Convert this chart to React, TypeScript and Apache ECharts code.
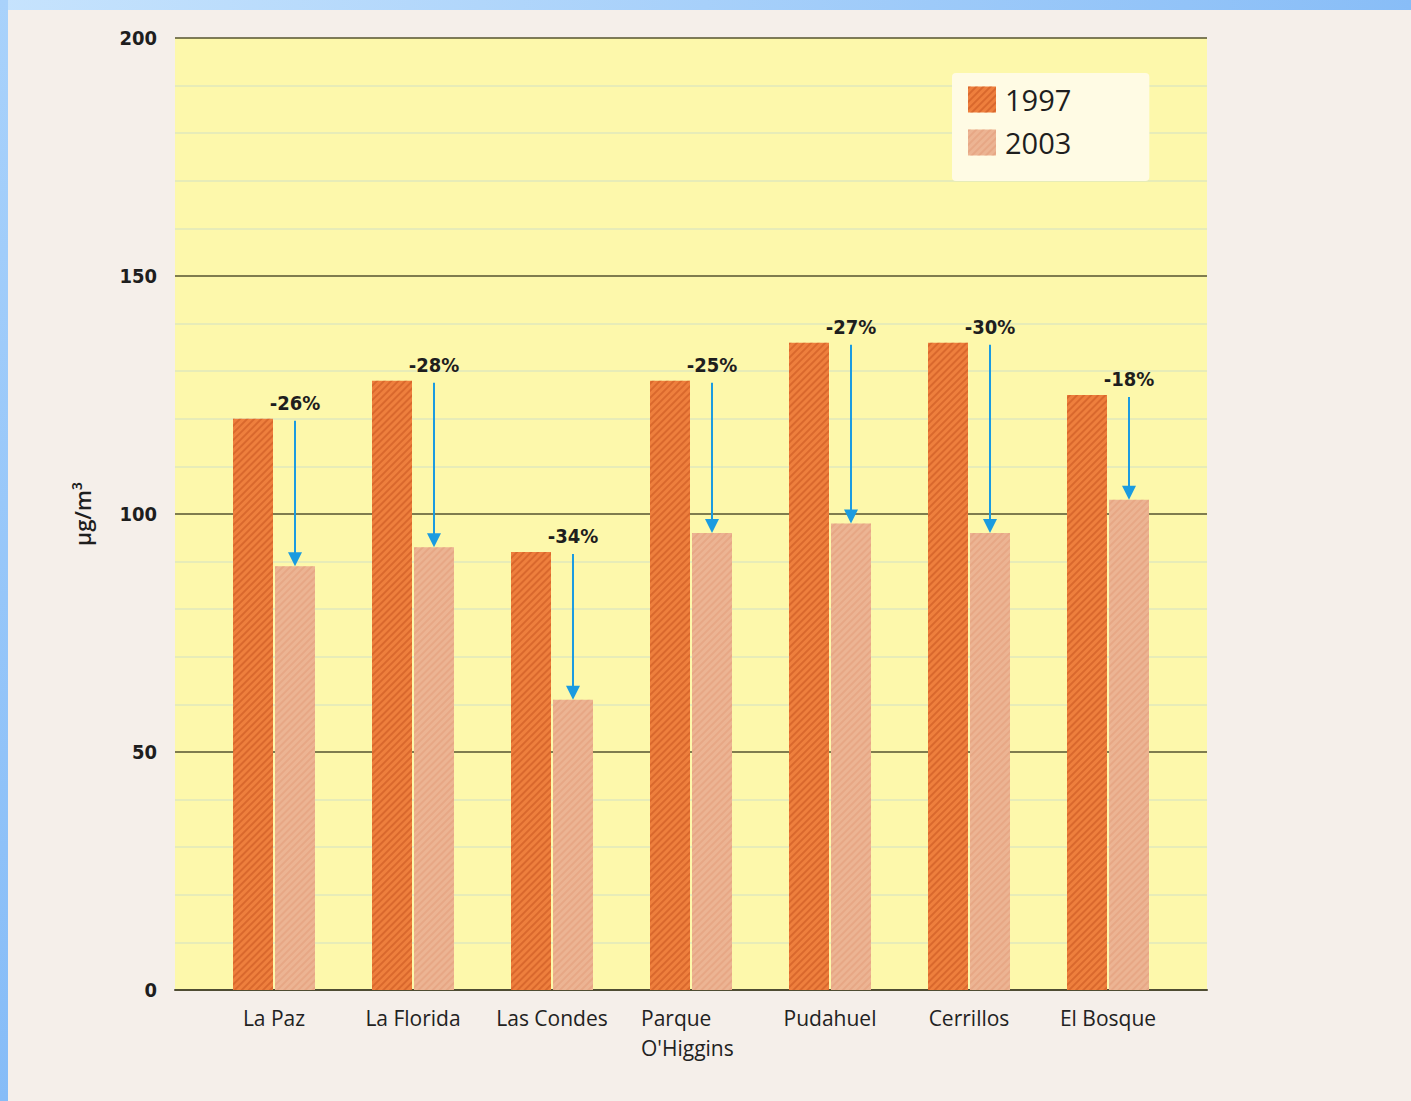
import React, { useEffect, useRef } from "react";
import * as echarts from "echarts";

const categories = ["La Paz", "La Florida", "Las Condes", "Parque\nO'Higgins", "Pudahuel", "Cerrillos", "El Bosque"];
const values1997 = [120, 128, 92, 128, 136, 136, 125];
const values2003 = [89, 93, 61, 96, 98, 96, 103];
const changeLabels = ["-26%", "-28%", "-34%", "-25%", "-27%", "-30%", "-18%"];
const seriesNames = ["1997", "2003"];
const yTicks = [0, 50, 100, 150, 200];

const BAR_W = 40;
const BAR_GAP_PX = 2;

export default function App() {
  const ref = useRef<HTMLDivElement>(null);
  useEffect(() => {
    if (!ref.current) return;
    const chart = echarts.init(ref.current, null, { renderer: "svg" });
    const arrowData = categories.map((_, i) => [i, values1997[i], values2003[i], changeLabels[i]]);
    chart.setOption({
      animation: false,
      backgroundColor: "#f5efea",
      graphic: [
        {
          type: "rect",
          shape: { x: 0, y: 0, width: 1411, height: 10 },
          style: {
            fill: new echarts.graphic.LinearGradient(0, 0, 1, 0, [
              { offset: 0, color: "#c6e3fd" },
              { offset: 1, color: "#88bdf7" },
            ]),
          },
          silent: true,
        },
        {
          type: "rect",
          shape: { x: 0, y: 0, width: 8, height: 1101 },
          style: {
            fill: new echarts.graphic.LinearGradient(0, 0, 0, 1, [
              { offset: 0, color: "#a9d2fb" },
              { offset: 1, color: "#86bcf7" },
            ]),
          },
          silent: true,
        },
      ],
      legend: {
        data: seriesNames,
        orient: "vertical",
        left: 952,
        top: 73,
        padding: [12, 78, 24, 16],
        itemWidth: 28,
        itemHeight: 26,
        itemGap: 14,
        icon: "rect",
        backgroundColor: "#fffbe4",
        borderRadius: 4,
        textStyle: { fontSize: 29, color: "#1e1e1e", fontFamily: "Open Sans", fontWeight: 500, padding: [0, 0, 0, 4] },
        selectedMode: false,
      },
      grid: [
        { left: 175, top: 38, width: 1032, height: 952, show: true, backgroundColor: "#fdf8ab", borderWidth: 0 },
        { left: 204.5, top: 38, width: 973, height: 952 },
      ],
      xAxis: [
        {
          gridIndex: 0,
          type: "value",
          min: 0,
          max: 1,
          show: true,
          axisLine: { show: true, onZero: false, lineStyle: { color: "#4f4d33", width: 2 } },
          axisTick: { show: false },
          axisLabel: { show: false },
          splitLine: { show: false },
        },
        {
          gridIndex: 1,
          type: "category",
          data: categories,
          axisLine: { show: false },
          axisTick: { show: false },
          axisLabel: {
            interval: 0,
            margin: 13,
            fontSize: 21,
            lineHeight: 30,
            color: "#222222",
            fontFamily: "Open Sans",
            fontWeight: 500,
            align: "center",
            formatter: (v: string) =>
              v.indexOf("\n") >= 0
                ? v
                    .split("\n")
                    .map((s) => "{l|" + s + "}")
                    .join("\n")
                : v,
            rich: {
              l: {
                width: 100,
                align: "left",
                fontSize: 21,
                lineHeight: 30,
                color: "#222222",
                fontFamily: "Open Sans",
                fontWeight: 500,
              },
            },
          },
        },
      ],
      yAxis: [
        {
          gridIndex: 0,
          type: "value",
          min: yTicks[0],
          max: yTicks[yTicks.length - 1],
          interval: 50,
          name: "μg/m³",
          nameLocation: "middle",
          nameGap: 82,
          nameRotate: 90,
          nameTextStyle: { fontSize: 22, color: "#1e1e1e", fontFamily: "Open Sans", fontWeight: 600 },
          axisLine: { show: false },
          axisTick: { show: false },
          axisLabel: {
            margin: 18,
            fontSize: 20,
            color: "#1e1e1e",
            fontFamily: "DejaVu Sans Condensed",
            fontWeight: "bold",
          },
          splitLine: { show: true, lineStyle: { color: "#55532f", width: 1.5 } },
          minorTick: { show: false, splitNumber: 5 },
          minorSplitLine: { show: true, lineStyle: { color: "#dfe8bd", width: 1.5 } },
        },
        {
          gridIndex: 1,
          type: "value",
          min: 0,
          max: 200,
          show: false,
          splitLine: { show: false },
        },
      ],
      series: [
        {
          name: seriesNames[0],
          type: "bar",
          xAxisIndex: 1,
          yAxisIndex: 1,
          data: values1997,
          barWidth: BAR_W,
          barGap: (BAR_GAP_PX / BAR_W) * 100 + "%",
          itemStyle: {
            color: "#ee7f3d",
            decal: {
              symbol: "rect",
              symbolSize: 1,
              dashArrayX: [1, 0],
              dashArrayY: [2, 3],
              rotation: -Math.PI / 4,
              color: "rgba(200,85,30,0.55)",
            },
          },
        },
        {
          name: seriesNames[1],
          type: "bar",
          xAxisIndex: 1,
          yAxisIndex: 1,
          data: values2003,
          barWidth: BAR_W,
          itemStyle: {
            color: "#ecb493",
            decal: {
              symbol: "rect",
              symbolSize: 1,
              dashArrayX: [1, 0],
              dashArrayY: [2, 3],
              rotation: -Math.PI / 4,
              color: "rgba(225,150,115,0.45)",
            },
          },
        },
        {
          type: "custom",
          xAxisIndex: 1,
          yAxisIndex: 1,
          data: arrowData,
          silent: true,
          z: 10,
          renderItem: (params: any, api: any) => {
            const i = api.value(0);
            const p1 = api.coord([i, api.value(1)]);
            const p2 = api.coord([i, api.value(2)]);
            const x = p1[0] + (BAR_W + BAR_GAP_PX) / 2;
            const yStart = p1[1] + 2;
            const yTip = p2[1];
            const head = 14;
            const label = changeLabels[params.dataIndex];
            return {
              type: "group",
              children: [
                {
                  type: "line",
                  shape: { x1: x, y1: yStart, x2: x, y2: yTip - head + 2 },
                  style: { stroke: "#1b9be0", lineWidth: 2 },
                },
                {
                  type: "polygon",
                  shape: { points: [[x - 7, yTip - head], [x + 7, yTip - head], [x, yTip]] },
                  style: { fill: "#1b9be0" },
                },
                {
                  type: "text",
                  x: x,
                  y: p1[1] - 6,
                  style: {
                    text: label,
                    fontSize: 20,
                    fontFamily: "DejaVu Sans Condensed",
                    fontWeight: "bold",
                    fill: "#1e1e1e",
                    align: "center",
                    verticalAlign: "bottom",
                  },
                },
              ],
            };
          },
        },
      ],
    });
    return () => chart.dispose();
  }, []);
  return (
    <div
      ref={ref}
      style={{ position: "absolute", left: 0, top: 0, width: 1411, height: 1101 }}
    />
  );
}
